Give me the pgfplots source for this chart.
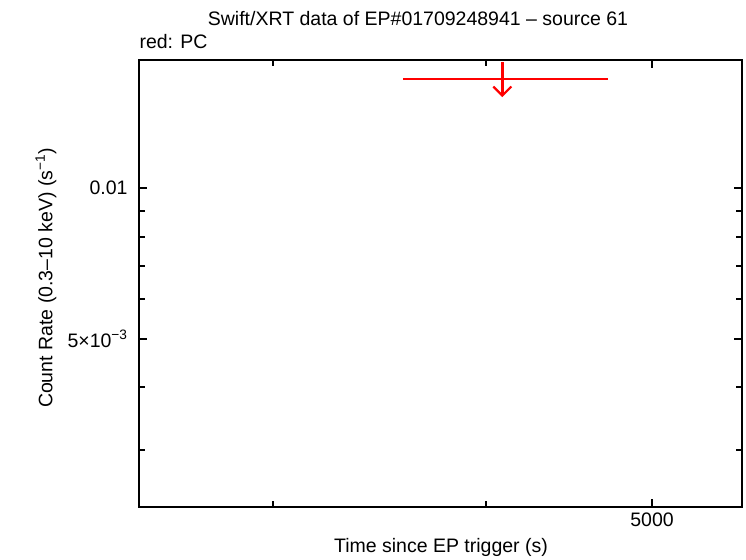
\documentclass[border=0pt]{standalone}
\usepackage{fontspec}
\setmainfont{Liberation Sans}
\usepackage{pgfplots}
\pgfplotsset{compat=1.18}
\usetikzlibrary{arrows.meta}
\newcommand{\lf}{\fontsize{19.5bp}{23bp}\selectfont}
\begin{document}
\begin{tikzpicture}[x=1bp,y=1bp]
\path (0,0) rectangle (746,558);
\begin{axis}[
  at={(139bp,51bp)}, anchor=south west,
  scale only axis, width=603bp, height=447bp,
  xmode=log, ymode=log,
  xmin=2506, xmax=5645, ymin=0.00231, ymax=0.0180,
  axis line style={line width=2bp},
  tick style={line width=2bp, black},
  major tick length=8bp, minor tick length=6bp,
  xtick={5000}, xticklabels={5000},
  minor xtick={3000,4000},
  ytick={0.005,0.01}, yticklabels={5×10\textsuperscript{−3},0.01},
  minor ytick={0.003,0.004,0.006,0.007,0.008,0.009},
  tick label style={font=\lf},
  yticklabel style={xshift=-8bp},
  xticklabel style={yshift=-2bp},
  clip=false,
]
\addplot[red, line width=2.5bp] coordinates {(3576,0.01650) (4714,0.01650)};
\addplot[red, line width=2.5bp, -{Straight Barb[length=9bp,width=18bp,line width=2.2bp]}] coordinates {(4087,0.01783) (4087,0.01518)};
\end{axis}
\node[font=\lf] at (418,539) {Swift/XRT data of EP\#01709248941 – source 61};
\node[font=\lf, anchor=west] at (136,516) {red: PC};
\node[font=\lf] at (441,11) {Time since EP trigger (s)};
\node[font=\lf, rotate=90] at (46,280) {Count Rate (0.3–10 keV) (s\textsuperscript{−1})};
\end{tikzpicture}
\end{document}
